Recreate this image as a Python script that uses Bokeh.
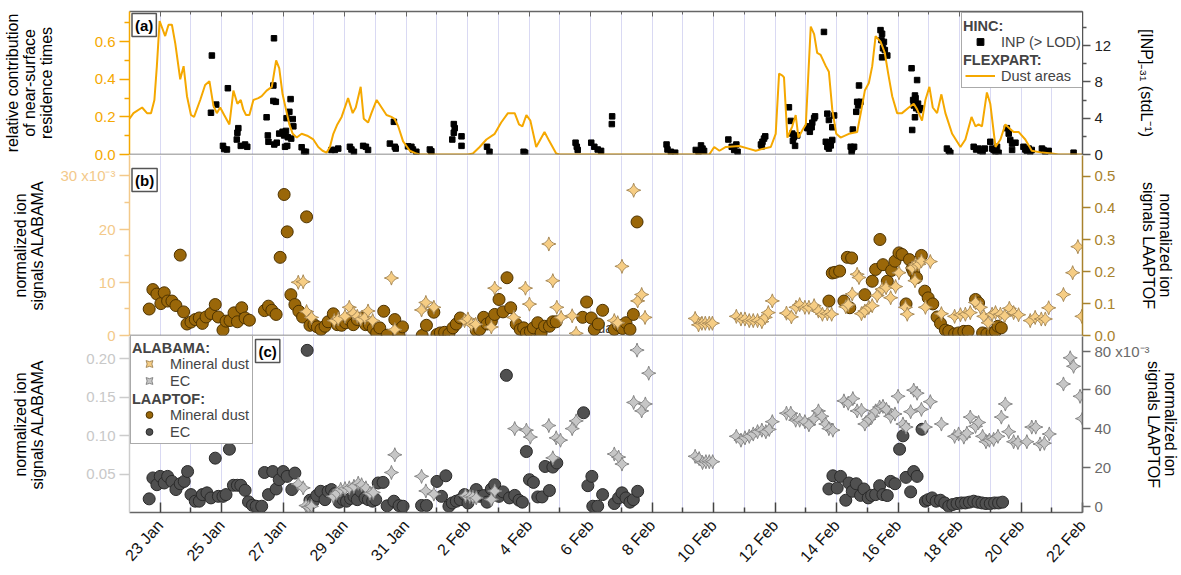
import math
import numpy as np
from bokeh.plotting import figure
from bokeh.models import (Range1d, LinearAxis, FixedTicker, Grid, Span, Label,
                          Legend, LegendItem, NumeralTickFormatter, CustomLabelingPolicy)
from bokeh.layouts import column
from bokeh.embed import file_html
from bokeh.resources import INLINE

# ---------------- data (x = day counted from 1 Jan 00:00 as day 1; 32 = 1 Feb) -------------
tick_days = [23, 25, 27, 29, 31, 33, 35, 37, 39, 41, 43, 45, 47, 49, 51, 53]
tick_labels = ["23 Jan", "25 Jan", "27 Jan", "29 Jan", "31 Jan", "2 Feb", "4 Feb", "6 Feb",
               "8 Feb", "10 Feb", "12 Feb", "14 Feb", "16 Feb", "18 Feb", "20 Feb", "22 Feb"]
minor_days = [24, 26, 28, 30, 32, 34, 36, 38, 40, 42, 44, 46, 48, 50, 52]

# FLEXPART dust areas (relative contribution)
dust_day = [22.00, 22.13, 22.41, 22.57, 22.70, 22.81, 22.89, 22.98, 23.16, 23.27, 23.38, 23.49,
            23.65, 23.76, 23.87, 24.00, 24.10, 24.30, 24.46, 24.60, 24.73, 24.84, 24.95, 25.08,
            25.25, 25.38, 25.51, 25.62, 25.70, 25.79, 25.90, 26.03, 26.19, 26.30, 26.46, 26.63,
            26.77, 26.87, 26.98, 27.09, 27.20, 27.31, 27.44, 27.60, 27.78, 27.98, 28.14, 28.28,
            28.41, 28.52, 28.63, 28.76, 28.90, 29.11, 29.26, 29.36, 29.52, 29.62, 29.76, 29.87,
            30.04, 30.20, 30.36, 30.52, 30.62, 30.74, 30.90, 31.12, 31.33, 31.44, 33.01, 33.17,
            33.39, 33.61, 33.88, 34.09, 34.31, 34.53, 34.67, 34.78, 34.91, 35.04, 35.23, 35.50,
            35.66, 35.88, 35.99, 38.00, 40.86, 41.02, 41.19, 41.40, 41.83, 42.16, 42.37, 42.59,
            42.86, 43.02, 43.13, 43.24, 43.29, 43.40, 43.56, 43.67, 43.76, 43.89, 44.00, 44.16,
            44.27, 44.37, 44.48, 44.65, 44.75, 44.86, 44.99, 45.13, 45.40, 45.67, 45.81, 45.92,
            46.05, 46.16, 46.27, 46.43, 46.57, 46.68, 46.81, 46.97, 47.13, 47.35, 47.51, 47.62,
            47.78, 47.89, 48.02, 48.13, 48.27, 48.41, 48.54, 48.76, 49.03, 49.19, 49.39, 49.52,
            49.62, 49.73, 49.89, 50.00, 50.17, 50.33, 50.49, 50.62, 50.76, 50.92, 51.14, 51.35,
            51.68, 52.00, 52.22, 53.00]
dust_val = [0.19, 0.22, 0.25, 0.22, 0.22, 0.29, 0.47, 0.71, 0.63, 0.69, 0.69, 0.59,
            0.40, 0.47, 0.31, 0.21, 0.20, 0.29, 0.37, 0.39, 0.26, 0.22, 0.25, 0.21,
            0.16, 0.34, 0.27, 0.29, 0.24, 0.21, 0.21, 0.29, 0.30, 0.31, 0.34, 0.36,
            0.50, 0.46, 0.32, 0.24, 0.16, 0.11, 0.09, 0.11, 0.10, 0.08, 0.04, 0.02,
            0.01, 0.04, 0.11, 0.16, 0.20, 0.30, 0.22, 0.25, 0.36, 0.19, 0.17, 0.22,
            0.29, 0.25, 0.21, 0.20, 0.19, 0.15, 0.07, 0.02, 0.005, 0.0, 0.0, 0.005,
            0.04, 0.08, 0.11, 0.17, 0.22, 0.22, 0.16, 0.15, 0.21, 0.18, 0.04, 0.12,
            0.07, 0.005, 0.0, 0.0, 0.0, 0.04, 0.02, 0.04, 0.045, 0.03, 0.02, 0.03,
            0.04, 0.11, 0.43, 0.42, 0.41, 0.09, 0.15, 0.21, 0.09, 0.13, 0.16, 0.68,
            0.64, 0.54, 0.53, 0.47, 0.44, 0.24, 0.11, 0.09, 0.11, 0.12, 0.24, 0.34,
            0.38, 0.47, 0.63, 0.60, 0.54, 0.43, 0.31, 0.22, 0.22, 0.25, 0.27, 0.24,
            0.18, 0.29, 0.36, 0.25, 0.22, 0.32, 0.22, 0.11, 0.04, 0.08, 0.20, 0.15,
            0.16, 0.15, 0.33, 0.27, 0.04, 0.08, 0.16, 0.14, 0.12, 0.12, 0.08, 0.02,
            0.01, 0.005, 0.0, 0.0]

# HINC INP (> LOD), stdL-1
inp_day = [24.68, 24.65, 24.82, 25.20, 25.04, 25.08, 25.17, 25.54, 25.51, 25.49, 25.62, 25.76,
           25.83, 26.46, 26.50, 26.52, 26.70, 26.68, 26.68, 26.76, 26.71, 26.79, 26.87, 26.98,
           27.03, 27.09, 27.06, 27.13, 27.11, 27.20, 27.24, 27.31, 27.33, 27.15, 27.26, 27.60,
           27.68, 27.74, 28.57, 28.68, 28.79, 29.17, 29.22, 29.30, 29.60, 29.69, 29.76, 30.47,
           30.63, 30.60, 30.66, 31.06, 31.17, 31.22, 31.33, 31.77, 31.82, 32.55, 32.58, 32.55,
           32.50, 32.80, 32.80, 33.63, 33.71, 34.82, 34.87, 36.51, 36.55, 36.58, 37.02, 37.12,
           37.23, 37.34, 37.70, 37.69, 39.47, 39.50, 39.61, 39.75, 40.42, 40.51, 40.59, 40.64,
           40.69, 41.48, 41.59, 41.67, 41.74, 41.78, 42.54, 42.59, 42.64, 42.68, 42.57, 43.45,
           43.51, 43.56, 43.61, 43.65, 43.72, 43.58, 44.05, 44.13, 44.19, 44.21, 44.27, 44.30,
           44.08, 44.59, 44.70, 44.75, 44.65, 44.70, 44.75, 44.81, 44.86, 44.86, 44.92, 45.46,
           45.51, 45.49, 45.57, 45.53, 45.67, 45.70, 45.73, 45.64, 45.78, 46.43, 46.48, 46.46,
           46.54, 46.51, 46.57, 46.48, 46.65, 47.44, 47.62, 47.55, 47.57, 47.51, 47.59, 47.65,
           47.73, 47.46, 47.55, 47.49, 47.68, 48.59, 48.65, 48.70, 49.46, 49.54, 49.62, 49.68,
           49.75, 49.82, 50.00, 50.06, 50.11, 50.17, 50.27, 50.22, 50.54, 50.60, 50.65, 50.71,
           50.82, 50.71, 51.08, 51.14, 51.19, 51.25, 51.30, 51.35, 51.68, 51.73, 51.79, 51.90,
           52.71]
inp_val = [10.9, 4.6, 5.5, 7.3, 0.95, 0.6, 0.55, 2.9, 2.4, 1.65, 0.95, 1.1,
           0.85, 4.1, 2.1, 1.4, 12.8, 7.6, 5.9, 5.8, 1.1, 1.3, 2.3, 2.5,
           2.1, 2.6, 0.85, 0.95, 4.0, 4.7, 6.1, 3.9, 3.1, 1.9, 1.75, 0.8,
           0.3, 0.3, 0.5, 0.5, 0.65, 0.85, 0.55, 0.3, 0.95, 0.85, 0.5, 1.2,
           0.85, 3.6, 0.65, 0.9, 0.85, 0.55, 0.3, 0.55, 0.35, 3.35, 2.9, 2.4,
           1.65, 2.0, 0.95, 0.85, 0.3, 0.3, 0.2, 1.3, 0.85, 0.5, 1.3, 0.85,
           0.55, 0.4, 4.2, 3.35, 1.1, 0.55, 0.3, 0.2, 0.5, 0.3, 1.0, 0.65,
           0.4, 1.65, 0.85, 0.5, 1.1, 0.3, 1.1, 1.4, 1.75, 2.0, 0.9, 5.2,
           3.7, 2.3, 1.9, 0.95, 2.1, 1.5, 2.9, 2.5, 3.0, 3.5, 4.0, 4.2,
           3.1, 13.5, 4.5, 3.8, 1.4, 0.85, 0.65, 1.0, 1.6, 3.0, 4.3, 0.85,
           0.65, 0.3, 0.85, 2.75, 5.8, 5.4, 7.6, 4.7, 5.8, 13.7, 13.3, 12.6,
           12.4, 11.7, 11.5, 10.7, 10.9, 9.5, 8.2, 6.5, 6.2, 5.4, 5.1, 5.6,
           5.1, 2.7, 4.1, 6.0, 4.9, 0.65, 0.4, 0.2, 0.85, 0.55, 0.65, 0.4,
           0.3, 0.65, 1.4, 0.65, 0.5, 0.3, 0.2, 0.85, 2.9, 2.3, 1.6, 1.2,
           1.3, 0.5, 0.85, 0.55, 0.4, 0.65, 0.3, 0.5, 0.65, 0.5, 0.3, 0.4,
           0.2]

# ALABAMA mineral dust (x10^-3)
al_md_day = [27.49, 27.65, 27.76, 27.92, 28.66, 28.79, 29.01, 29.15, 29.28, 29.41, 29.52, 29.66,
             29.76, 29.91, 30.52, 30.63, 31.50, 31.64, 31.90, 32.90, 33.01, 33.12, 33.26, 33.77,
             33.88, 34.50, 34.88, 35.01, 35.64, 35.77, 35.90, 36.04, 36.40, 36.53, 37.77, 37.88,
             38.02, 38.40, 38.53, 38.66, 38.77, 40.40, 40.51, 40.62, 40.73, 40.86, 40.96, 41.74,
             41.89, 42.02, 42.16, 42.29, 42.43, 42.57, 42.68, 42.78, 42.91, 43.37, 43.53, 43.68,
             43.80, 43.97, 44.10, 44.27, 44.41, 44.54, 44.70, 44.84, 45.30, 45.38, 45.51, 45.67,
             45.73, 45.81, 45.92, 46.05, 46.16, 46.32, 46.48, 46.61, 46.76, 46.92, 47.03, 47.24,
             47.30, 47.46, 47.57, 47.68, 47.55, 47.76, 47.89, 48.05, 48.41, 48.84, 49.03, 49.19,
             49.35, 49.52, 49.68, 49.79, 49.93, 50.06, 50.17, 50.33, 50.47, 50.62, 50.76, 50.92,
             51.30, 51.46, 51.66, 51.79, 51.90, 52.38, 52.68, 52.85, 52.98]
al_md_val = [10.0, 10.1, 4.5, 3.4, 2.8, 3.1, 3.6, 5.3, 4.2, 3.6, 3.1, 3.4,
             4.6, 2.8, 10.8, 1.1, 4.8, 6.2, 5.3, 2.8, 3.1, 2.1, 2.1, 1.6,
             8.9, 3.4, 8.9, 5.9, 17.2, 10.3, 5.3, 3.4, 3.7, 0.4, 2.8, 2.4,
             13.0, 27.3, 6.5, 7.7, 3.4, 3.2, 2.0, 2.3, 2.3, 2.3, 2.3, 3.6,
             3.1, 3.1, 2.8, 2.8, 2.8, 2.6, 3.4, 4.3, 6.5, 4.2, 3.5, 5.3,
             5.8, 5.3, 5.3, 5.6, 4.6, 4.0, 4.1, 4.0, 5.4, 5.8, 7.8, 11.5,
             10.9, 4.1, 4.6, 5.3, 5.6, 7.5, 8.7, 9.0, 7.1, 9.2, 11.8, 5.3,
             4.0, 12.7, 13.4, 13.4, 10.3, 14.0, 5.3, 13.9, 4.1, 3.6, 3.9, 4.0,
             4.3, 6.2, 5.3, 3.6, 2.4, 4.0, 4.3, 4.0, 3.7, 5.1, 4.3, 3.9,
             2.8, 3.4, 3.1, 3.1, 5.2, 7.7, 11.8, 16.7, 3.6]

# LAAPTOF mineral dust
la_md_day = [22.64, 22.76, 22.89, 23.02, 23.13, 23.24, 23.38, 23.51, 23.65, 23.76, 23.87, 24.00,
             24.14, 24.27, 24.37, 24.49, 24.65, 24.79, 24.89, 25.04, 25.14, 25.27, 25.40, 25.51,
             25.65, 25.76, 25.90, 26.39, 26.52, 26.63, 26.77, 26.90, 27.03, 27.13, 27.25, 27.38,
             27.51, 27.63, 27.76, 27.87, 28.00, 28.11, 28.23, 28.36, 28.46, 28.63, 28.76, 28.90,
             29.03, 29.15, 29.28, 29.41, 29.55, 29.68, 29.80, 29.93, 30.04, 30.14, 30.27, 30.38,
             30.63, 30.77, 30.88, 31.52, 31.66, 31.90, 32.00, 32.11, 32.25, 32.39, 32.52, 32.63,
             32.76, 33.28, 33.39, 33.52, 33.63, 33.77, 33.88, 34.02, 34.15, 34.28, 34.40, 34.58,
             34.71, 34.82, 34.91, 35.04, 35.14, 35.28, 35.39, 35.50, 35.66, 35.77, 35.88, 36.74,
             36.87, 37.02, 37.12, 37.25, 37.39, 37.77, 37.91, 38.04, 38.15, 38.28, 38.39, 38.51,
             44.75, 44.86, 44.95, 45.10, 45.24, 45.35, 45.49, 45.43, 45.92, 46.16, 46.27, 46.41,
             46.51, 46.65, 46.79, 46.90, 47.03, 47.13, 47.37, 47.26, 47.46, 47.51, 47.60, 47.76,
             47.87, 47.98, 48.13, 48.27, 48.38, 48.54, 48.65, 48.84, 48.97, 49.14, 49.28, 49.52,
             49.62, 49.75, 49.89, 50.06, 50.17, 50.25, 50.36]
la_md_val = [0.083, 0.144, 0.130, 0.100, 0.134, 0.108, 0.108, 0.094, 0.252, 0.074, 0.036, 0.042,
             0.050, 0.055, 0.038, 0.058, 0.069, 0.097, 0.058, 0.017, 0.045, 0.047, 0.071, 0.043,
             0.087, 0.055, 0.048, 0.078, 0.092, 0.079, 0.066, 0.245, 0.442, 0.325, 0.128, 0.097,
             0.076, 0.058, 0.372, 0.032, 0.034, 0.027, 0.019, 0.029, 0.043, 0.068, 0.034, 0.032,
             0.040, 0.050, 0.034, 0.050, 0.055, 0.034, 0.034, 0.022, 0.008, 0.024, 0.076, 0.001,
             0.050, 0.000, 0.027, 0.000, 0.032, 0.073, 0.003, 0.008, 0.010, 0.005, 0.024, 0.036,
             0.055, 0.016, 0.019, 0.057, 0.036, 0.045, 0.066, 0.113, 0.074, 0.181, 0.087, 0.036,
             0.019, 0.024, 0.008, 0.013, 0.024, 0.040, 0.008, 0.029, 0.029, 0.043, 0.043, 0.057,
             0.105, 0.055, 0.019, 0.036, 0.079, 0.019, 0.032, 0.022, 0.040, 0.019, 0.066, 0.356,
             0.108, 0.196, 0.198, 0.202, 0.108, 0.245, 0.243, 0.087, 0.128, 0.170, 0.207, 0.301,
             0.222, 0.170, 0.204, 0.233, 0.259, 0.254, 0.238, 0.099, 0.210, 0.199, 0.181, 0.251,
             0.139, 0.118, 0.099, 0.058, 0.038, 0.017, 0.013, 0.005, 0.008, 0.013, 0.013, 0.113,
             0.102, 0.008, 0.005, 0.008, 0.013, 0.029, 0.024]

# ALABAMA EC
al_ec_day = [27.49, 27.65, 27.74, 27.82, 27.92, 28.63, 28.74, 28.87, 29.01, 29.15, 29.30, 29.44,
             29.55, 29.69, 29.82, 29.93, 30.52, 30.63, 31.50, 31.64, 31.90, 32.93, 33.07, 33.17,
             33.28, 33.77, 33.88, 34.53, 34.91, 35.04, 35.64, 35.77, 35.88, 36.02, 36.40, 36.53,
             37.77, 37.91, 38.02, 38.40, 38.51, 38.66, 38.78, 38.89, 40.40, 40.53, 40.64, 40.75,
             40.86, 40.97, 41.74, 41.89, 42.02, 42.16, 42.29, 42.43, 42.57, 42.70, 42.81, 42.91,
             43.37, 43.51, 43.67, 43.80, 43.97, 44.10, 44.27, 44.41, 44.52, 44.65, 44.75, 44.88,
             45.24, 45.38, 45.53, 45.67, 45.81, 45.92, 46.05, 46.16, 46.27, 46.40, 46.51, 46.62,
             46.76, 46.90, 47.00, 47.16, 47.26, 47.41, 47.51, 47.62, 47.76, 47.89, 48.05, 48.41,
             48.84, 48.97, 49.14, 49.24, 49.35, 49.52, 49.62, 49.75, 49.86, 49.97, 50.11, 50.25,
             50.36, 50.49, 50.60, 50.76, 50.90, 51.19, 51.35, 51.48, 51.62, 51.76, 51.92, 52.38,
             52.60, 52.71, 52.92, 53.00]
al_ec_val = [0.037, 0.032, 0.009, 0.007, 0.008, 0.021, 0.025, 0.030, 0.031, 0.032, 0.034, 0.038,
             0.036, 0.032, 0.025, 0.026, 0.052, 0.075, 0.047, 0.028, 0.024, 0.022, 0.021, 0.020,
             0.019, 0.017, 0.028, 0.109, 0.107, 0.098, 0.113, 0.071, 0.097, 0.094, 0.109, 0.119,
             0.076, 0.072, 0.063, 0.143, 0.211, 0.132, 0.141, 0.181, 0.073, 0.070, 0.065, 0.066,
             0.066, 0.066, 0.099, 0.094, 0.097, 0.099, 0.102, 0.105, 0.107, 0.105, 0.108, 0.118,
             0.129, 0.129, 0.120, 0.120, 0.118, 0.114, 0.122, 0.132, 0.125, 0.115, 0.109, 0.107,
             0.145, 0.142, 0.148, 0.132, 0.133, 0.115, 0.121, 0.125, 0.132, 0.137, 0.138, 0.134,
             0.125, 0.128, 0.151, 0.115, 0.111, 0.131, 0.159, 0.155, 0.134, 0.111, 0.144, 0.115,
             0.099, 0.102, 0.098, 0.103, 0.124, 0.112, 0.117, 0.099, 0.092, 0.094, 0.095, 0.099,
             0.124, 0.141, 0.105, 0.092, 0.091, 0.092, 0.111, 0.111, 0.089, 0.090, 0.102, 0.167,
             0.201, 0.190, 0.151, 0.122]

# LAAPTOF EC (x10^-3)
la_ec_day = [22.64, 22.76, 22.89, 23.00, 23.13, 23.24, 23.38, 23.51, 23.65, 23.78, 23.89, 24.00,
             24.14, 24.27, 24.37, 24.52, 24.65, 24.79, 24.89, 25.04, 25.14, 25.25, 25.38, 25.51,
             25.62, 25.76, 25.87, 26.00, 26.12, 26.30, 26.39, 26.52, 26.66, 26.77, 26.87, 27.00,
             27.13, 27.28, 27.38, 27.78, 27.87, 27.98, 28.09, 28.22, 28.36, 28.46, 28.57, 28.68,
             28.82, 28.95, 29.06, 29.19, 29.30, 29.41, 29.52, 29.66, 29.77, 29.91, 30.01, 30.09,
             30.25, 30.38, 30.60, 30.77, 30.90, 31.50, 31.66, 32.00, 32.15, 32.29, 32.39, 32.50,
             32.63, 32.76, 32.90, 33.01, 33.15, 33.28, 33.39, 33.52, 33.63, 33.77, 33.88, 34.02,
             34.15, 34.26, 34.36, 34.53, 34.67, 34.78, 34.91, 35.01, 35.14, 35.28, 35.42, 35.52,
             35.66, 35.77, 35.90, 36.77, 36.91, 37.04, 37.07, 37.23, 37.39, 37.77, 37.91, 38.02,
             38.15, 38.28, 38.39, 38.53, 44.75, 44.88, 45.02, 45.13, 45.30, 45.40, 45.51, 45.64,
             45.78, 45.89, 46.03, 46.14, 46.27, 46.40, 46.51, 46.65, 46.76, 46.90, 47.05, 47.16,
             47.26, 47.41, 47.51, 47.62, 47.78, 47.89, 47.98, 48.11, 48.24, 48.38, 48.52, 48.65,
             48.78, 48.92, 49.06, 49.19, 49.32, 49.46, 49.60, 49.73, 49.86, 50.00, 50.14, 50.27,
             50.40]
la_ec_val = [3.8, 14.6, 11.1, 15.4, 12.0, 15.4, 12.8, 8.6, 11.6, 12.8, 17.9, 6.0,
             2.6, 2.6, 6.0, 6.9, 4.3, 24.8, 5.1, 5.1, 6.0, 29.4, 10.8, 10.8,
             10.8, 8.2, 2.3, 0.5, 0.0, 0.0, 17.4, 6.0, 17.9, 8.9, 13.7, 17.9,
             15.4, 8.6, 17.1, 80.4, 3.1, 2.6, 5.5, 7.7, 3.4, 7.7, 8.6, 6.5,
             2.1, 3.4, 2.6, 4.0, 5.1, 3.4, 7.7, 4.3, 3.4, 2.6, 3.4, 12.0,
             12.3, 0.2, 2.6, 0.3, 0.0, 0.4, 0.4, 12.8, 5.1, 15.7, 0.0, 1.7,
             2.6, 3.4, 6.0, 1.7, 5.1, 8.6, 5.1, 5.5, 2.1, 8.9, 11.1, 5.1,
             7.4, 67.5, 4.3, 5.6, 3.1, 2.1, 28.2, 13.7, 12.3, 4.8, 4.8, 20.5,
             8.1, 20.2, 22.3, 48.2, 10.6, 15.4, 0.0, 0.0, 6.0, 1.4, 4.3, 6.9,
             4.3, 2.1, 3.4, 7.7, 8.9, 15.7, 9.4, 15.4, 3.1, 12.0, 7.7, 11.6,
             5.6, 8.9, 4.3, 5.6, 6.0, 10.6, 6.0, 5.5, 12.8, 11.6, 29.4, 36.3,
             14.9, 7.4, 17.9, 15.4, 39.7, 2.6, 3.4, 4.3, 2.6, 3.1, 1.7, 0.0,
             0.9, 1.4, 1.7, 1.7, 2.1, 2.6, 2.1, 1.7, 1.4, 1.4, 1.7, 1.7,
             2.1]

# ---------------- styling ----------------
FONT = "Liberation Sans"
W = 1181
BL, BR = 129, 97
ORANGE = "#F5A800"
PALE = "#F3C98A"
BROWN_AX = "#A8822C"
MD_FILL, MD_LINE = "#F6CD84", "#A88A58"
EC_FILL, EC_LINE = "#C6C6C6", "#858585"
LMD_FILL, LMD_LINE = "#9A6709", "#4E3300"
LEC_FILL, LEC_LINE = "#505050", "#2A2A2A"
GRIDC = "#d9d9f3"
NAN = np.array([np.nan])

xr = Range1d(22, 53)


def make_fig(h, top, bottom, y0, y1, transparent=False, overlap=0):
    p = figure(width=W, height=h, x_range=xr, y_range=Range1d(y0, y1),
               output_backend="svg", toolbar_location=None,
               x_axis_location=None, y_axis_location=None,
               min_border_left=BL, min_border_right=BR,
               min_border_top=top, min_border_bottom=bottom)
    p.outline_line_color = None
    p.grid.grid_line_color = None
    if transparent:
        p.background_fill_alpha = 0
        p.border_fill_alpha = 0
    if overlap:
        p.margin = (-overlap, 0, 0, 0)
    p.add_layout(Grid(dimension=0, ticker=FixedTicker(ticks=list(range(23, 53))),
                      grid_line_color=GRIDC, grid_line_width=1))
    return p


def style_y(ax, line_color, label_color, title=None, standoff=10, tick_out=10,
            minor_out=5, title_color="black"):
    ax.axis_line_color = line_color
    ax.axis_line_width = 1.5
    ax.major_tick_line_color = line_color
    ax.minor_tick_line_color = line_color
    ax.major_tick_line_width = 1.5
    ax.minor_tick_line_width = 1.5
    ax.major_tick_out = tick_out
    ax.major_tick_in = 0
    ax.minor_tick_out = minor_out
    ax.minor_tick_in = 0
    ax.major_label_text_color = label_color
    ax.major_label_text_font = FONT
    ax.major_label_text_font_size = "15px"
    ax.major_label_standoff = 4
    if title:
        ax.axis_label = title
        ax.axis_label_text_font = FONT
        ax.axis_label_text_font_size = "16px"
        ax.axis_label_text_font_style = "normal"
        ax.axis_label_text_color = title_color
        ax.axis_label_standoff = standoff
        ax.axis_label_text_line_height = 1.0


def panel_label(p, text, x, y):
    p.add_layout(Label(x=x, y=y, x_units="screen", y_units="screen", text=text,
                       anchor="top_left", text_font=FONT, text_font_size="15px",
                       text_font_style="bold", text_color="black",
                       border_line_color="#555555", border_line_width=1.5,
                       background_fill_color="white", padding=3))


def style_legend(lg, boxed=True):
    lg.label_text_font = FONT
    lg.label_text_font_size = "14.5px"
    lg.padding = 3
    lg.spacing = 0
    lg.margin = 0
    lg.glyph_height = 17
    lg.label_height = 17
    if boxed:
        lg.glyph_width = 30
        lg.label_standoff = 6
        lg.border_line_color = "#555555"
        lg.border_line_width = 1.5
        lg.background_fill_color = "white"
        lg.background_fill_alpha = 1.0
    else:
        lg.glyph_width = 1
        lg.label_standoff = 0
        lg.label_text_font_style = "bold"
        lg.border_line_alpha = 0
        lg.background_fill_alpha = 0


# ---------------- panel (a) ----------------
pa = make_fig(164, 11, 10, 0, 0.7606)
pa.extra_y_ranges = {"inp": Range1d(0, 15.75)}
ax = LinearAxis(ticker=FixedTicker(ticks=[0, 0.2, 0.4, 0.6], minor_ticks=[0.1, 0.3, 0.5, 0.7]),
                formatter=NumeralTickFormatter(format="0.0"))
style_y(ax, ORANGE, ORANGE, "relative contribution\nof near-surface\nresidence times", standoff=37)
pa.add_layout(ax, "left")
ax = LinearAxis(y_range_name="inp",
                ticker=FixedTicker(ticks=[0, 4, 8, 12], minor_ticks=[2, 6, 10, 14]))
style_y(ax, "#555555", "#222222", "[INP]\u208b\u2083\u2081 (stdL\u207b\u00b9)", standoff=24,
        tick_out=8, minor_out=4)
pa.add_layout(ax, "right")
top = LinearAxis(ticker=FixedTicker(ticks=tick_days, minor_ticks=minor_days))
top.axis_line_color = "#666666"
top.axis_line_width = 1.5
top.major_tick_line_color = "#666666"
top.minor_tick_line_color = "#666666"
top.major_tick_in, top.major_tick_out = 5, 0
top.minor_tick_in, top.minor_tick_out = 3, 0
top.major_label_text_font_size = "1px"
top.major_label_standoff = 0
top.major_label_policy = CustomLabelingPolicy(code="""
    for (const i of indices)
        indices.unset(i)
    return indices
""")
pa.add_layout(top, "above")
pa.add_layout(Span(location=0, dimension="width", line_color="#666666", line_width=1.5))

sq = pa.scatter(inp_day, inp_val, y_range_name="inp", marker="square", size=5.5,
                fill_color="black", line_color="black")
ln = pa.line(dust_day, dust_val, line_color=ORANGE, line_width=2)
dummy_a = pa.scatter([], [], marker="square", size=1, fill_alpha=0, line_alpha=0)
panel_label(pa, "(a)", 2.5, 141)
lga = Legend(items=[LegendItem(label=" ", renderers=[dummy_a]),
                    LegendItem(label="INP (> LOD)", renderers=[sq]),
                    LegendItem(label=" ", renderers=[dummy_a]),
                    LegendItem(label="Dust areas", renderers=[ln])],
             location=(832, 66))
style_legend(lga)
pa.add_layout(lga)
lga_h = Legend(items=[LegendItem(label="HINC:", renderers=[dummy_a]),
                      LegendItem(label=" ", renderers=[dummy_a]),
                      LegendItem(label="FLEXPART:", renderers=[dummy_a]),
                      LegendItem(label=" ", renderers=[dummy_a])],
               location=(830, 66))
style_legend(lga_h, boxed=False)
pa.add_layout(lga_h)

# ---------------- panel (b) ----------------
pb = make_fig(191, 1, 10, 0, 33.83, transparent=True, overlap=10)
pb.extra_y_ranges = {"laap": Range1d(0, 0.5643)}
ax = LinearAxis(ticker=FixedTicker(ticks=[0, 10, 20, 30], minor_ticks=[5, 15, 25]))
ax.major_label_overrides = {30: "30 x10\u207b\u00b3"}
style_y(ax, PALE, PALE, "normalized ion\nsignals ALABAMA", standoff=11)
pb.add_layout(ax, "left")
ax = LinearAxis(y_range_name="laap",
                ticker=FixedTicker(ticks=[0, 0.1, 0.2, 0.3, 0.4, 0.5]),
                formatter=NumeralTickFormatter(format="0.0"))
style_y(ax, BROWN_AX, BROWN_AX, "normalized ion\nsignals LAAPTOF", standoff=22,
        tick_out=8, minor_out=4)
pb.add_layout(ax, "right")
pb.add_layout(Span(location=0, dimension="width", line_color="#666666", line_width=1.5))
pb.add_layout(Label(x=37.22, y=1.45, text="da", text_baseline="middle", text_font=FONT,
                    text_font_size="14px", text_color="#444444", level="underlay"))
pb.scatter(la_md_day, la_md_val, y_range_name="laap", marker="circle", size=12,
           fill_color=LMD_FILL, line_color=LMD_LINE, line_width=1)
pb.scatter(al_md_day, al_md_val, marker="square_pin", angle=math.pi / 4, size=10,
           fill_color=MD_FILL, line_color=MD_LINE, line_width=1)
panel_label(pb, "(b)", 2.5, 167)

# ---------------- panel (c) ----------------
pc = make_fig(238, 1, 60, 0, 0.2287, transparent=True, overlap=10)
pc.extra_y_ranges = {"laap": Range1d(-3.23, 87.54)}
ax = LinearAxis(ticker=FixedTicker(ticks=[0.05, 0.10, 0.15, 0.20]),
                formatter=NumeralTickFormatter(format="0.00"))
style_y(ax, "#CCCCCC", "#C8C8C8", "normalized ion\nsignals ALABAMA", standoff=37)
pc.add_layout(ax, "left")
ax = LinearAxis(y_range_name="laap", ticker=FixedTicker(ticks=[0, 20, 40, 60, 80]))
ax.major_label_overrides = {80: "80 x10\u207b\u00b3"}
style_y(ax, "#6A6A6A", "#6A6A6A", "normalized ion\nsignals LAAPTOF", standoff=-8,
        tick_out=8, minor_out=4)
pc.add_layout(ax, "right")
bot = LinearAxis(ticker=FixedTicker(ticks=tick_days, minor_ticks=minor_days))
bot.major_label_overrides = dict(zip(tick_days, tick_labels))
bot.axis_line_color = "#666666"
bot.axis_line_width = 1.5
bot.major_tick_line_color = "#444444"
bot.minor_tick_line_color = "#444444"
bot.major_tick_line_width = 1.5
bot.minor_tick_line_width = 1.5
bot.major_tick_in, bot.major_tick_out = 10, 0
bot.minor_tick_in, bot.minor_tick_out = 5, 0
bot.major_label_orientation = math.radians(48)
bot.major_label_text_font = FONT
bot.major_label_text_font_size = "16px"
bot.major_label_text_color = "#111111"
bot.major_label_standoff = 10
pc.add_layout(bot, "below")

lec = pc.scatter(la_ec_day, la_ec_val, y_range_name="laap", marker="circle", size=12,
                 fill_color=LEC_FILL, line_color=LEC_LINE, line_width=1)
aec = pc.scatter(al_ec_day, al_ec_val, marker="square_pin", angle=math.pi / 4, size=10,
                 fill_color=EC_FILL, line_color=EC_LINE, line_width=1)
# legend proxies for the panel (b) series (one NaN row, never drawn in the plot)
amd_proxy = pc.scatter(NAN, NAN, marker="square_pin", angle=math.pi / 4, size=10,
                       fill_color=MD_FILL, line_color=MD_LINE)
lmd_proxy = pc.scatter(NAN, NAN, marker="circle", size=12, fill_color=LMD_FILL,
                       line_color=LMD_LINE)
dummy_c = pc.scatter([], [], marker="circle", size=1, fill_alpha=0, line_alpha=0)
lgc = Legend(items=[LegendItem(label=" ", renderers=[dummy_c]),
                    LegendItem(label="Mineral dust", renderers=[amd_proxy]),
                    LegendItem(label="EC", renderers=[aec]),
                    LegendItem(label=" ", renderers=[dummy_c]),
                    LegendItem(label="Mineral dust", renderers=[lmd_proxy]),
                    LegendItem(label="EC", renderers=[lec])],
             location=(1, 68))
style_legend(lgc)
pc.add_layout(lgc)
lgc_h = Legend(items=[LegendItem(label="ALABAMA:", renderers=[dummy_c]),
                      LegendItem(label=" ", renderers=[dummy_c]),
                      LegendItem(label=" ", renderers=[dummy_c]),
                      LegendItem(label="LAAPTOF:", renderers=[dummy_c]),
                      LegendItem(label=" ", renderers=[dummy_c]),
                      LegendItem(label=" ", renderers=[dummy_c])],
               location=(-1, 68))
style_legend(lgc_h, boxed=False)
pc.add_layout(lgc_h)
panel_label(pc, "(c)", 126, 173)

layout = column(pa, pb, pc, spacing=0)
open("out.html", "w").write(file_html(layout, INLINE))
